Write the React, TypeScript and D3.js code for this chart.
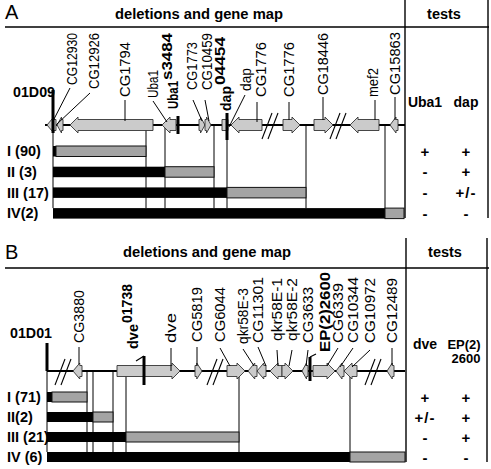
import React from 'react';
import * as d3 from 'd3';

// ---------------- Panel A data (map units along the chromosome) ----------------
const rowsA = ['I (90)', 'II (3)', 'III (17)', 'IV(2)'];
const delStartA = [6, 6, 6, 6];
const delBlackEndA = [9, 118, 180, 338];
const delGrayEndA = [99, 167, 259, 357];
const testHeadA = ['Uba1', 'dap'];
const testsA_Uba1 = ['+', '-', '-', '-'];
const testsA_dap = ['+', '+', '+/-', '-'];

const genesA = [
  { name: 'CG12930', start: 0, end: 9, strand: -1 },
  { name: 'CG12926', start: 10, end: 16, strand: -1 },
  { name: 'CG1794', start: 23, end: 106, strand: -1 },
  { name: 'Uba1', start: 115, end: 129, strand: -1 },
  { name: 'CG1773', start: 152, end: 158, strand: 1 },
  { name: 'CG10459', start: 158, end: 164, strand: 1 },
  { name: 'dap', start: 175, end: 181, strand: 0 },
  { name: 'CG1776', start: 184, end: 215, strand: -1 },
  { name: 'CG1776b', start: 236, end: 253, strand: 1 },
  { name: 'CG18446', start: 267, end: 286, strand: 1 },
  { name: 'mef2', start: 303, end: 332, strand: -1 },
  { name: 'CG15863', start: 343, end: 351, strand: -1 },
];
const breaksA = [223, 291];
const insertionsA = [
  { name: '01D09', pos: 6 },
  { name: 'Uba1s3484', pos: 131 },
  { name: 'dap04454', pos: 180 },
];
const labelsA = [
  { text: 'CG12930', at: 25, from: 23, to: 6 },
  { text: 'CG12926', at: 47, from: 43, to: 10 },
  { text: 'CG1794', at: 78, from: 78, to: 78 },
  { text: 'Uba1', at: 106, from: 106, to: 120 },
  { text: 'Uba1', sup: 's3484', at: 125 },
  { text: 'CG1773', at: 145, from: 146, to: 155 },
  { text: 'CG10459', at: 160, from: 158, to: 162 },
  { text: 'dap', sup: '04454', at: 178 },
  { text: 'dap', at: 199, from: 198, to: 182 },
  { text: 'CG1776', at: 214, from: 210, to: 210 },
  { text: 'CG1776', at: 242, from: 242, to: 242 },
  { text: 'CG18446', at: 276, from: 276, to: 276 },
  { text: 'mef2', at: 326, from: 328, to: 328 },
  { text: 'CG15863', at: 348, from: 348, to: 348 },
];

// ---------------- Panel B data ----------------
const rowsB = ['I (71)', 'II(2)', 'III (21)', 'IV (6)'];
const delStartB = [0, 0, 0, 0];
const delBlackEndB = [5, 46, 79, 303];
const delGrayEndB = [40, 66, 192, 358];
const testHeadB = ['dve', 'EP(2)|2600'];
const testsB_dve = ['+', '+/-', '-', '-'];
const testsB_EP = ['+', '+', '+', '-'];

const genesB = [
  { name: 'CG3880', start: 26, end: 35, strand: -1 },
  { name: 'dve', start: 70, end: 133, strand: 1 },
  { name: 'CG5819', start: 148, end: 155, strand: 1 },
  { name: 'CG6044', start: 180, end: 198, strand: 1 },
  { name: 'qkr58E-3', start: 201, end: 210, strand: -1 },
  { name: 'CG11301', start: 210, end: 219, strand: -1 },
  { name: 'qkr58E-1', start: 223, end: 235, strand: -1 },
  { name: 'qkr58E-2', start: 235, end: 246, strand: 1 },
  { name: 'CG3633', start: 255, end: 261, strand: -1 },
  { name: 'CG6339', start: 266, end: 288, strand: 1 },
  { name: 'CG10344', start: 289, end: 297, strand: -1 },
  { name: 'CG10972', start: 297, end: 310, strand: -1 },
  { name: 'CG12489', start: 340, end: 347, strand: -1 },
];
const breaksB = [16, 168, 326];
const insertionsB = [
  { name: '01D01', pos: 0 },
  { name: 'dve01738', pos: 97 },
  { name: 'EP(2)2600', pos: 263 },
];
const labelsB = [
  { text: 'CG3880', at: 32, from: 32, to: 32 },
  { text: 'dve', sup: '01738', at: 85 },
  { text: 'dve', at: 124, from: 124, to: 124 },
  { text: 'CG5819', at: 150, from: 150, to: 150 },
  { text: 'CG6044', at: 173, from: 173, to: 183 },
  { text: 'qkr58E-3', at: 196, from: 196, to: 207 },
  { text: 'CG11301', at: 211, from: 211, to: 219 },
  { text: 'qkr58E-1', at: 230, from: 230, to: 231 },
  { text: 'qkr58E-2', at: 245, from: 245, to: 242 },
  { text: 'CG3633', at: 261, from: 261, to: 259 },
  { text: 'EP(2)2600', at: 277 },
  { text: 'CG6339', at: 291, from: 291, to: 280 },
  { text: 'CG10344', at: 306, from: 306, to: 293 },
  { text: 'CG10972', at: 323, from: 323, to: 305 },
  { text: 'CG12489', at: 345, from: 345, to: 345 },
];

// ---------------- layout ----------------
const FONT = 'Arial, "Liberation Sans", Helvetica, sans-serif';
const GENE_FILL = '#cbcbcb';
const DEL_GRAY = '#a4a4a4';

const layoutA = {
  letter: 'A', letterY: 19, titleX: 199, titleY: 19, testsX: 444,
  headerY: 27, frameTop: 0, frameBottom: 218, divX: 405, rightX: 488,
  mapY: 125, mapFrom: -2, mapTo: 358,
  rowTop: 146, rowStep: 20.7, rowH: 10.5,
  tag: { x: 13, y: 97 },
  labelBase: [85, 89, 97, 98, 109, 90, 90, 111, 91, 97, 97, 95, 97, 95],
  labelLen: [52, 56, 55, 28, [28, 47], 48, 57, [25, 48], 23, 55, 55, 62, 29, 63],
  leaderY: [[88, 121], [93, 124], [100, 121], [101, 122], null, [100, 121], [100, 121], null, [95, 127], [102, 122], [102, 120], [97, 120], [100, 120], [97, 120]],
  markers: [[90, 133], [116, 134], [113, 140]],
  markerTicks: [null, null, null],
  testHeadY: 107, testHeadDy: 0,
};
const layoutB = {
  letter: 'B', letterY: 259, titleX: 207, titleY: 257, testsX: 445,
  headerY: 268, frameTop: 238, frameBottom: 462, divX: 406, rightX: 487,
  mapY: 371, mapFrom: 0, mapTo: 358,
  rowTop: 392, rowStep: 20, rowH: 10,
  tag: { x: 10, y: 338 },
  labelBase: [343, 349, 343, 342, 342, 344, 343, 341, 341, 343, 352, 343, 343, 343, 343],
  labelLen: [53, [25, 39], 30, 55, 55, 56, 66, 63, 63, 56, 80, 60, 66, 65, 65],
  leaderY: [[347, 364], null, [348, 371], [347, 366], [348, 366], [349, 366], [347, 366], [350, 366], [350, 366], [350, 366], null, [348, 366], [348, 367], [350, 367], [348, 365]],
  markers: [[343, 371], [356, 385], [357, 381]],
  markerTicks: [null, [-8, 5, 0, 0], [6, -3, 0, 0]],
  testHeadY: 348.5, testHeadDy: 14.5,
};

const x = d3.scaleLinear().domain([0, 358]).range([47, 405]);
const testX = d3.scaleOrdinal<number, number>().domain([0, 1]).range([425, 466]);

function genePath(g: any, yc: number) {
  const x0 = x(g.start), x1 = x(g.end);
  const bh = 5.5, hh = 8;
  const w = x1 - x0;
  const hl = Math.min(8, w * 0.75);
  let pts: [number, number][];
  if (g.strand === 0) {
    pts = [[x0, yc - bh], [x1, yc - bh], [x1, yc + bh], [x0, yc + bh]];
  } else if (g.strand > 0) {
    const b = x1 - hl;
    pts = [[x0, yc - bh], [b, yc - bh], [b, yc - hh], [x1, yc], [b, yc + hh], [b, yc + bh], [x0, yc + bh]];
  } else {
    const b = x0 + hl;
    pts = [[x1, yc - bh], [b, yc - bh], [b, yc - hh], [x0, yc], [b, yc + hh], [b, yc + bh], [x1, yc + bh]];
  }
  return d3.line()(pts) + 'Z';
}

function Panel({ L, genes, breaks, insertions, labels, rows, dStart, dBlack, dGray, heads, tests }: any) {
  const rowY = d3.scaleLinear().domain([0, rows.length - 1]).range([L.rowTop, L.rowTop + L.rowStep * (rows.length - 1)]);
  const lastTop = rowY(rows.length - 1);
  const vlines: number[] = [dStart[0]];
  rows.forEach((_: any, i: number) => {
    if (i > 0) vlines.push(dBlack[i]);
    if (i < rows.length - 1) vlines.push(dGray[i]);
  });
  const my = L.mapY;
  return (
    <g>
      <text x={5} y={L.letterY} fontSize={20} fontFamily={FONT}>{L.letter}</text>
      <text x={L.titleX} y={L.titleY} fontSize={14.5} fontWeight="bold" textAnchor="middle" fontFamily={FONT} textLength={168} lengthAdjust="spacingAndGlyphs">deletions and gene map</text>
      <text x={L.testsX} y={L.titleY} fontSize={14.5} fontWeight="bold" textAnchor="middle" fontFamily={FONT}>tests</text>
      <line x1={5} x2={489} y1={L.headerY} y2={L.headerY} stroke="#000" strokeWidth={1.6} />
      <line x1={L.divX} x2={L.divX} y1={L.frameTop} y2={L.frameBottom} stroke="#000" strokeWidth={1.4} />
      <line x1={L.rightX} x2={L.rightX} y1={L.frameTop} y2={L.frameBottom} stroke="#000" strokeWidth={1.4} />

      {vlines.map((v, i) => (
        <line key={'v' + i} x1={x(v)} x2={x(v)} y1={my} y2={lastTop} stroke="#000" strokeWidth={1} />
      ))}

      <line x1={x(L.mapFrom)} x2={x(L.mapTo)} y1={my} y2={my} stroke="#000" strokeWidth={1.8} />

      {breaks.map((b: number, i: number) => (
        <g key={'b' + i}>
          {[-3, 3].map((o) => (
            <line key={o} x1={x(b) + o - 5} y1={my + 14} x2={x(b) + o + 5} y2={my - 12} stroke="#000" strokeWidth={1.1} />
          ))}
        </g>
      ))}

      {genes.map((g: any, i: number) => (
        <path key={'g' + i} d={genePath(g, my)} fill={GENE_FILL} stroke="#333" strokeWidth={0.9} />
      ))}

      {labels.map((lb: any, i: number) => {
        const ly = L.leaderY[i];
        if (!ly) return null;
        return <line key={'l' + i} x1={x(lb.from)} y1={ly[0]} x2={x(lb.to)} y2={ly[1]} stroke="#000" strokeWidth={1} />;
      })}

      {insertions.map((ins: any, i: number) => {
        const [y0, y1] = L.markers[i];
        const t = L.markerTicks[i];
        return (
          <g key={'i' + i}>
            <line x1={x(ins.pos)} x2={x(ins.pos)} y1={y0} y2={y1} stroke="#000" strokeWidth={3} />
            {t && <line x1={x(ins.pos) + t[0]} y1={y0 + t[1]} x2={x(ins.pos)} y2={y0} stroke="#000" strokeWidth={1.2} />}
          </g>
        );
      })}

      {labels.map((lb: any, i: number) => {
        const base = L.labelBase[i];
        const len = L.labelLen[i];
        const bold = !!lb.sup || lb.text.startsWith('EP');
        if (lb.sup) {
          return (
            <g key={'t' + i} transform={`translate(${x(lb.at)},${base}) rotate(-90)`}>
              <text x={0} y={0} dominantBaseline="central" fontSize={15} fontWeight="bold" fontFamily={FONT}
                textLength={len[0]} lengthAdjust="spacingAndGlyphs">{lb.text}</text>
              <text x={len[0] + 1} y={-5} dominantBaseline="central" fontSize={14} fontWeight="bold" fontFamily={FONT}
                textLength={len[1]} lengthAdjust="spacingAndGlyphs">{lb.sup}</text>
            </g>
          );
        }
        return (
          <text key={'t' + i} transform={`translate(${x(lb.at)},${base}) rotate(-90)`} dominantBaseline="central"
            fontSize={bold ? 15.5 : 14} fontWeight={bold ? 'bold' : 'normal'} fontFamily={FONT}
            textLength={len} lengthAdjust="spacingAndGlyphs">
            {lb.text}
          </text>
        );
      })}

      <text x={L.tag.x} y={L.tag.y} fontSize={14.5} fontWeight="bold" fontFamily={FONT} textLength={42} lengthAdjust="spacingAndGlyphs">{insertions[0].name}</text>

      {rows.map((r: string, i: number) => {
        const y0 = rowY(i);
        return (
          <g key={'r' + i}>
            <text x={7} y={y0 + L.rowH / 2 + 5} fontSize={14.5} fontWeight="bold" fontFamily={FONT}>{r}</text>
            <rect x={x(dStart[i])} y={y0} width={x(dBlack[i]) - x(dStart[i])} height={L.rowH} fill="#000" />
            <rect x={x(dBlack[i])} y={y0} width={x(dGray[i]) - x(dBlack[i])} height={L.rowH} fill={DEL_GRAY} stroke="#111" strokeWidth={1} />
            {tests.map((col: string[], c: number) => (
              <text key={c} x={testX(c)} y={y0 + L.rowH / 2} dominantBaseline="central" textAnchor="middle"
                fontSize={15} fontWeight="bold" fontFamily={FONT} letterSpacing={col[i].length > 1 ? 1 : 0}>{col[i]}</text>
            ))}
          </g>
        );
      })}

      {heads.map((h: string, c: number) => {
        const parts = h.split('|');
        return (
          <g key={'h' + c}>
            {parts.map((p, k) => (
              <text key={k} x={testX(c) - (k === 0 && parts.length > 1 ? 2 : 0)} y={L.testHeadY + k * L.testHeadDy}
                textAnchor="middle" fontSize={parts.length > 1 ? 13 : 14} fontWeight="bold" fontFamily={FONT}>{p}</text>
            ))}
          </g>
        );
      })}
    </g>
  );
}

export default function App() {
  return (
    <svg width={491} height={469} viewBox="0 0 491 469" style={{ position: 'absolute', left: 0, top: 0, background: '#fff' }}>
      <rect width={491} height={469} fill="#fff" />
      <Panel L={layoutA} genes={genesA} breaks={breaksA} insertions={insertionsA} labels={labelsA}
        rows={rowsA} dStart={delStartA} dBlack={delBlackEndA} dGray={delGrayEndA}
        heads={testHeadA} tests={[testsA_Uba1, testsA_dap]} />
      <Panel L={layoutB} genes={genesB} breaks={breaksB} insertions={insertionsB} labels={labelsB}
        rows={rowsB} dStart={delStartB} dBlack={delBlackEndB} dGray={delGrayEndB}
        heads={testHeadB} tests={[testsB_dve, testsB_EP]} />
    </svg>
  );
}
